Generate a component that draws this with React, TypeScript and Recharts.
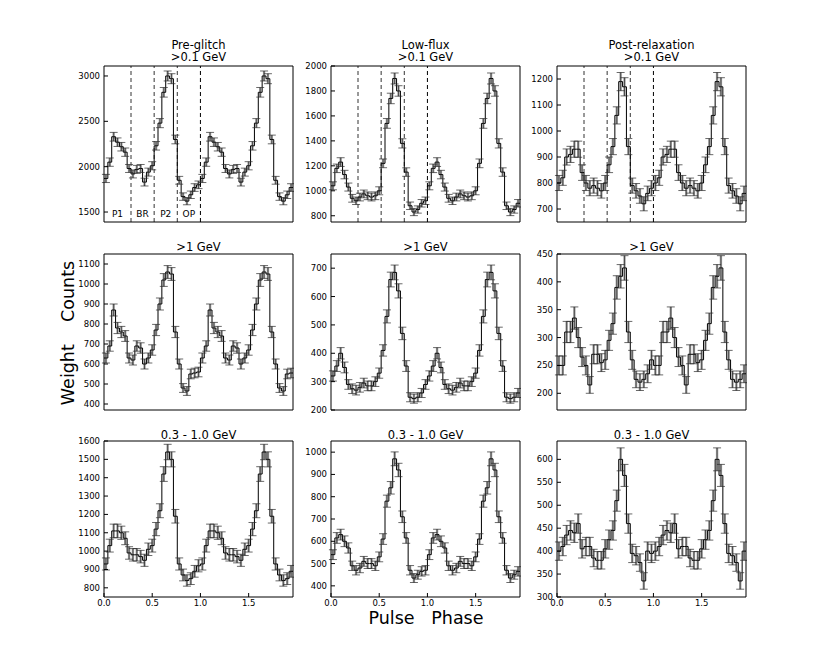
import {
  ComposedChart,
  ErrorBar,
  Line,
  ReferenceArea,
  ReferenceLine,
  Scatter,
  XAxis,
  YAxis,
} from "recharts";

// phase bins: 25 per rotation, profile drawn twice and cut at 1.96
const BIN = 0.04;
const BINS_PER_TURN = 25;
const X_MAX = 1.96;
const X_TICKS = [0, 0.5, 1, 1.5];

const epochs = ["Pre-glitch", "Low-flux", "Post-relaxation"];
const bands = [">0.1 GeV", ">1 GeV", "0.3 - 1.0 GeV"];

// dashed phase-region boundaries (top row) and their names
const regionEdges = [0, 0.28, 0.52, 0.76, 1.0];
const regionNames = ["P1", "BR", "P2", "OP"];

// >0.1 GeV
const preAll = [1870, 2050, 2330, 2270, 2220, 2160, 1980, 1920, 1970, 1980, 1830, 1940, 2010, 2230, 2480, 2820, 3000, 2970, 2300, 1850, 1670, 1620, 1690, 1770, 1800];
const preAllErr = [45, 46, 48, 47, 47, 46, 44, 44, 44, 44, 43, 44, 45, 47, 50, 53, 55, 55, 48, 43, 41, 40, 41, 42, 42];
const lowAll = [1040, 1180, 1230, 1130, 1030, 940, 920, 950, 975, 960, 950, 960, 1000, 1220, 1540, 1740, 1900, 1800, 1380, 1150, 880, 830, 850, 900, 920];
const lowAllErr = [32, 34, 35, 34, 32, 31, 30, 31, 31, 31, 31, 31, 32, 35, 39, 42, 44, 42, 37, 34, 30, 29, 29, 30, 30];
const postAll = [800, 820, 900, 910, 930, 930, 840, 800, 780, 790, 780, 770, 800, 870, 940, 1060, 1190, 1170, 940, 790, 770, 750, 720, 760, 780];
const postAllErr = [29, 29, 31, 31, 31, 31, 30, 29, 29, 29, 29, 28, 29, 30, 31, 33, 35, 35, 31, 29, 28, 28, 27, 28, 29];

// >1 GeV
const preHigh = [630, 690, 870, 780, 760, 740, 630, 620, 690, 680, 600, 630, 670, 770, 900, 1020, 1060, 1050, 760, 600, 480, 465, 550, 555, 560];
const preHighErr = [25, 26, 30, 28, 28, 27, 25, 25, 26, 26, 25, 25, 26, 28, 30, 32, 32, 32, 28, 25, 22, 22, 24, 24, 24];
const lowHigh = [320, 355, 400, 350, 290, 275, 270, 280, 295, 285, 285, 300, 330, 410, 530, 660, 685, 620, 470, 355, 245, 240, 245, 260, 290];
const lowHighErr = [18, 19, 20, 19, 17, 17, 17, 17, 17, 17, 17, 17, 18, 20, 23, 26, 26, 25, 22, 19, 16, 16, 16, 16, 17];
const postHigh = [250, 250, 310, 310, 335, 300, 265, 250, 215, 270, 270, 255, 260, 295, 325, 390, 410, 425, 310, 260, 225, 220, 225, 235, 260];
const postHighErr = [17, 17, 19, 19, 20, 18, 17, 17, 15, 17, 17, 16, 17, 18, 19, 21, 21, 22, 19, 17, 15, 15, 15, 16, 17];

// 0.3 - 1.0 GeV
const preMid = [930, 1030, 1110, 1110, 1100, 1070, 990, 980, 980, 970, 950, 1010, 1030, 1120, 1220, 1420, 1540, 1500, 1190, 930, 870, 840, 850, 890, 920];
const preMidErr = [33, 35, 37, 37, 36, 35, 34, 34, 34, 34, 33, 34, 35, 36, 38, 40, 42, 41, 37, 33, 32, 31, 32, 32, 33];
const lowMid = [540, 615, 630, 600, 570, 490, 470, 480, 510, 500, 500, 490, 530, 610, 780, 840, 970, 920, 710, 615, 470, 435, 450, 465, 470];
const lowMidErr = [22, 24, 24, 24, 23, 21, 21, 21, 22, 22, 22, 21, 22, 24, 27, 28, 31, 30, 26, 24, 21, 20, 20, 21, 21];
const postMid = [400, 410, 435, 445, 440, 460, 405, 410, 410, 385, 380, 380, 405, 425, 445, 510, 600, 565, 460, 395, 390, 375, 335, 400, 395];
const postMidErr = [20, 20, 21, 21, 21, 21, 20, 20, 20, 19, 19, 19, 20, 21, 21, 23, 25, 24, 21, 20, 20, 19, 18, 20, 20];

// y ranges and ticks per panel, row by row
const yDomains = [
  [[1390, 3110], [750, 2000], [650, 1250]],
  [[370, 1150], [200, 750], [170, 450]],
  [[750, 1600], [350, 1050], [300, 640]],
];
const yTicks = [
  [[1500, 2000, 2500, 3000], [800, 1000, 1200, 1400, 1600, 1800, 2000], [700, 800, 900, 1000, 1100, 1200]],
  [[400, 500, 600, 700, 800, 900, 1000, 1100], [200, 300, 400, 500, 600, 700], [200, 250, 300, 350, 400, 450]],
  [[800, 900, 1000, 1100, 1200, 1300, 1400, 1500, 1600], [400, 500, 600, 700, 800, 900, 1000], [300, 350, 400, 450, 500, 550, 600]],
];

const profiles = [
  [[preAll, preAllErr], [lowAll, lowAllErr], [postAll, postAllErr]],
  [[preHigh, preHighErr], [lowHigh, lowHighErr], [postHigh, postHighErr]],
  [[preMid, preMidErr], [lowMid, lowMidErr], [postMid, postMidErr]],
];

const COL_LEFT = [104, 331, 557];
const ROW_TOP = [66, 254, 441];
const PLOT_W = 189;
const PLOT_H = 156;
const AXIS_W = 40;
const PAD_TOP = 8;
const FONT = "'DejaVu Sans', sans-serif";

const tickStyle = { fontSize: 8.5, fill: "#000" };

const noMarker = () => <g />;

function Panel({ row, col }: { row: number; col: number }) {
  const [values, errors] = profiles[row][col];
  const shown = Math.round(X_MAX / BIN);
  const steps: { x: number; y: number }[] = [];
  const centers: { x: number; y: number; err: number }[] = [];
  for (let i = 0; i < shown; i++) {
    const k = i % BINS_PER_TURN;
    steps.push({ x: i * BIN, y: values[k] });
    centers.push({ x: i * BIN + BIN / 2, y: values[k], err: errors[k] });
  }
  steps.push({ x: X_MAX, y: values[(shown - 1) % BINS_PER_TURN] });

  const domain = yDomains[row][col];
  const ticks = yTicks[row][col];
  const bottomRow = row === 2;

  return (
    <div
      style={{
        position: "absolute",
        left: COL_LEFT[col] - AXIS_W,
        top: ROW_TOP[row] - 1 - PAD_TOP,
      }}
    >
      <ComposedChart
        width={AXIS_W + PLOT_W + 1}
        height={PAD_TOP + 1 + PLOT_H + 20}
        margin={{ top: PAD_TOP, right: 0, bottom: 0, left: 0 }}
      >
        <XAxis
          type="number"
          dataKey="x"
          domain={[0, X_MAX]}
          allowDataOverflow
          ticks={X_TICKS}
          interval={0}
          tickFormatter={(v: number) => v.toFixed(1)}
          tick={bottomRow ? tickStyle : false}
          tickSize={-4}
          tickMargin={7}
          height={20}
          stroke="#000"
        />
        <XAxis
          xAxisId="top"
          orientation="top"
          type="number"
          domain={[0, X_MAX]}
          allowDataOverflow
          ticks={X_TICKS}
          interval={0}
          tick={false}
          tickSize={-4}
          height={1}
          stroke="#000"
        />
        <YAxis
          type="number"
          dataKey="y"
          domain={domain}
          allowDataOverflow
          ticks={ticks}
          interval={0}
          tick={tickStyle}
          tickSize={-4}
          tickMargin={8}
          width={AXIS_W}
          stroke="#000"
        />
        <YAxis
          yAxisId="right"
          orientation="right"
          type="number"
          domain={domain}
          allowDataOverflow
          ticks={ticks}
          interval={0}
          tick={false}
          tickSize={-4}
          width={1}
          stroke="#000"
        />
        {row === 0 &&
          regionEdges.slice(1).map((x, i) => (
            <ReferenceLine
              key={x}
              x={x}
              stroke={i === 3 ? "#000" : "#333"}
              strokeDasharray="4 3"
              strokeWidth={1}
            />
          ))}
        {row === 0 &&
          col === 0 &&
          regionNames.map((name, i) => (
            <ReferenceArea
              key={name}
              x1={regionEdges[i]}
              x2={regionEdges[i + 1]}
              fill="none"
              stroke="none"
              label={{ value: name, position: "insideBottom", offset: 5, fontSize: 9, fill: "#000" }}
            />
          ))}
        <Scatter data={centers} dataKey="y" shape={noMarker} isAnimationActive={false}>
          <ErrorBar dataKey="err" direction="y" width={0} stroke="#a3a3a3" strokeWidth={2.4} isAnimationActive={false} />
        </Scatter>
        <Line
          data={steps}
          dataKey="y"
          type="stepAfter"
          stroke="#000"
          strokeWidth={1}
          dot={false}
          isAnimationActive={false}
        />
        <Scatter data={centers} dataKey="y" shape={noMarker} isAnimationActive={false}>
          <ErrorBar dataKey="err" direction="y" width={4} stroke="#2a2a2a" strokeWidth={0.7} isAnimationActive={false} />
        </Scatter>
      </ComposedChart>
    </div>
  );
}

function Title({ row, col }: { row: number; col: number }) {
  const lines = row === 0 ? [epochs[col], bands[0]] : [bands[row]];
  const centerY = row === 0 ? 51.25 : row === 1 ? 247 : 435;
  const top = centerY - (lines.length * 12.5) / 2;
  return (
    <div
      style={{
        position: "absolute",
        left: COL_LEFT[col],
        width: PLOT_W,
        top,
        textAlign: "center",
        fontSize: 11.5,
        lineHeight: "12.5px",
      }}
    >
      {lines.map((l) => (
        <div key={l}>{l}</div>
      ))}
    </div>
  );
}

export default function App() {
  const cells = [0, 1, 2].flatMap((row) => [0, 1, 2].map((col) => ({ row, col })));
  return (
    <div
      style={{
        position: "absolute",
        left: 0,
        top: 0,
        width: 830,
        height: 664,
        background: "#fff",
        fontFamily: FONT,
        color: "#000",
      }}
    >
      {cells.map(({ row, col }) => (
        <Panel key={`p${row}${col}`} row={row} col={col} />
      ))}
      {cells.map(({ row, col }) => (
        <Title key={`t${row}${col}`} row={row} col={col} />
      ))}
      <div
        style={{
          position: "absolute",
          left: 326,
          width: 200,
          top: 607,
          textAlign: "center",
          fontSize: 17.5,
          lineHeight: "22px",
          whiteSpace: "pre",
        }}
      >
        {"Pulse   Phase"}
      </div>
      <div
        style={{
          position: "absolute",
          left: 67.5 - 100,
          top: 332.5 - 11,
          width: 200,
          textAlign: "center",
          fontSize: 17.5,
          lineHeight: "22px",
          whiteSpace: "pre",
          transform: "rotate(-90deg)",
        }}
      >
        {"Weight    Counts"}
      </div>
    </div>
  );
}
